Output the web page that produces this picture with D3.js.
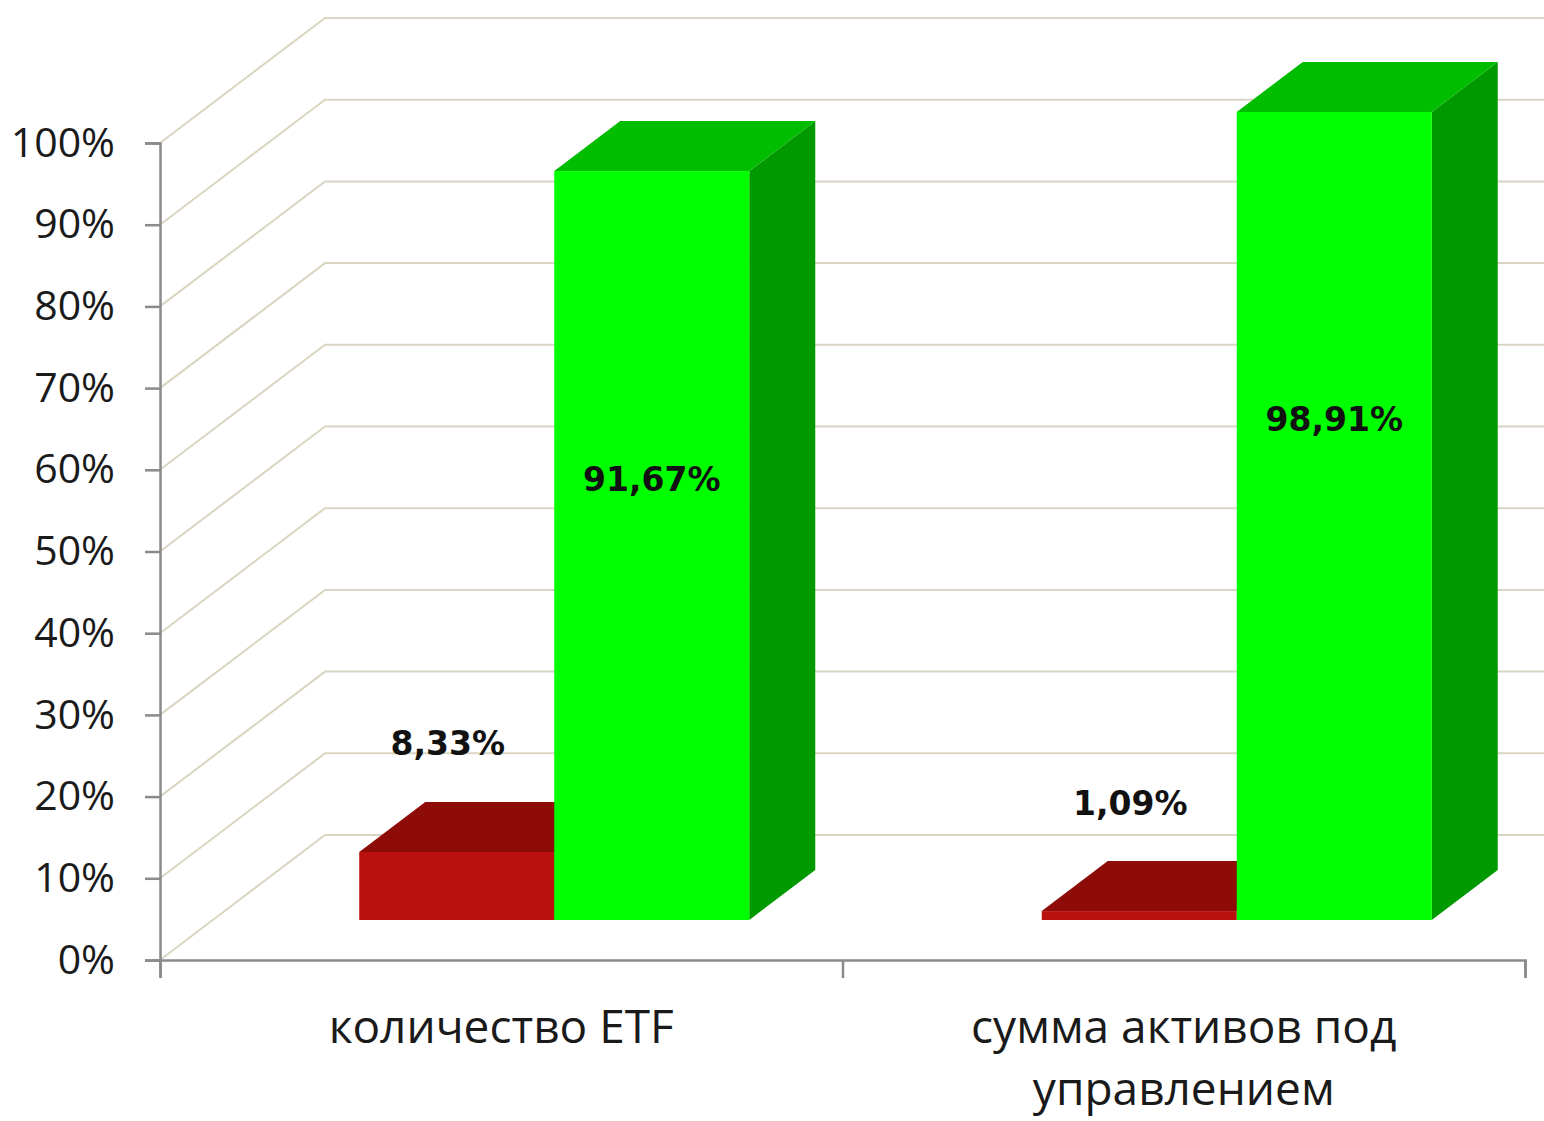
<!DOCTYPE html>
<html>
<head>
<meta charset="utf-8">
<script src="https://cdn.jsdelivr.net/npm/d3@7"></script>
<style>
  html, body { margin: 0; padding: 0; background: #fff; }
  svg { display: block; }
</style>
</head>
<body>
<div id="vis-display"></div>
<script>
// 3D clustered columns: share of ETF count vs. share of assets under management.

const CATEGORIES = ["количество ETF", "сумма активов под управлением"];
const CATEGORY_LINES = [["количество ETF"], ["сумма активов под", "управлением"]];
const SERIES = ["red", "green"];
const RED_VALUES   = [8.33, 1.09];
const GREEN_VALUES = [91.67, 98.91];
const LABELS_RED   = ["8,33%", "1,09%"];
const LABELS_GREEN = ["91,67%", "98,91%"];
const Y_TICKS = [0, 10, 20, 30, 40, 50, 60, 70, 80, 90, 100];

const W = 1544, H = 1121;

// depth offsets of the 3D box (px)
const WALL  = { dx: 165, dy: -125 };  // full floor depth
const FRONT = { dx: 53,  dy: -40 };   // bar front face
const DEPTH = { dx: 66,  dy: -50 };   // bar thickness

const COLORS = {
  red:   { front: "#bb110e", top: "#8e0c08", side: "#7a0a06" },
  green: { front: "#00ff00", top: "#00bd00", side: "#009a00" },
};

const FONT = "'Open Sans', 'DejaVu Sans', sans-serif";

const svg = d3.select("#vis-display").append("svg")
  .attr("width", W)
  .attr("height", H);

// ── Scales ────────────────────────────────────────────────────────────────

const y = d3.scaleLinear().domain([0, 100]).range([960, 143]);

const x0 = d3.scaleBand().domain(CATEGORIES).range([160, 1525]).padding(0);
const x1 = d3.scaleBand().domain(SERIES).range([0, x0.bandwidth()])
  .paddingInner(0).paddingOuter(0.75);

const xEdge = d3.scaleLinear().domain([0, CATEGORIES.length]).range([160, 1525]);

// ── Gridlines (side wall + back wall) ──────────────────────────────────────

const grid = svg.append("g");
grid.selectAll("polyline")
  .data(Y_TICKS)
  .join("polyline")
    .attr("points", v => {
      const yy = y(v);
      return [[160, yy], [160 + WALL.dx, yy + WALL.dy], [W + 10, yy + WALL.dy]]
        .map(p => p.join(",")).join(" ");
    })
    .attr("fill", "none")
    .attr("stroke", "#dad5c2")
    .attr("stroke-width", 2);

// ── Axes ──────────────────────────────────────────────────────────────────

svg.append("g")
  .attr("transform", "translate(160,0)")
  .call(d3.axisLeft(y).tickValues(Y_TICKS).tickSize(15).tickPadding(30)
    .tickFormat(d => d + "%"))
  .call(ax => ax.select(".domain").attr("stroke", "#8a8a8a").attr("stroke-width", 2.5))
  .call(ax => ax.selectAll(".tick line").attr("stroke", "#8a8a8a").attr("stroke-width", 2.5))
  .selectAll("text")
    .style("font-family", FONT)
    .style("font-size", "41px")
    .style("fill", "#1a1a1a");

svg.append("g")
  .attr("transform", "translate(0,960)")
  .call(d3.axisBottom(xEdge).ticks(CATEGORIES.length).tickSize(18).tickSizeOuter(18)
    .tickFormat(""))
  .call(ax => ax.select(".domain").attr("stroke", "#8a8a8a").attr("stroke-width", 2.5))
  .call(ax => ax.selectAll(".tick line").attr("stroke", "#8a8a8a").attr("stroke-width", 2.5));

// category labels
const catLabels = svg.append("g");
CATEGORIES.forEach((c, i) => {
  const cx = x0(c) + x0.bandwidth() / 2;
  const t = catLabels.append("text")
    .attr("text-anchor", "middle")
    .style("font-family", FONT)
    .style("font-size", "46px")
    .style("fill", "#1a1a1a");
  CATEGORY_LINES[i].forEach((line, j) => {
    t.append("tspan")
      .attr("x", cx)
      .attr("y", 1043 + j * 62)
      .text(line);
  });
});

// ── Bars ──────────────────────────────────────────────────────────────────

const pts = arr => arr.map(p => p.join(",")).join(" ");

function drawBar(g, cat, series, value) {
  const c = COLORS[series];
  const xl = x0(cat) + x1(series) + FRONT.dx;
  const xr = xl + x1.bandwidth();
  const yt = y(value) + FRONT.dy;
  const yb = y(0) + FRONT.dy;
  g.append("polygon")
    .attr("points", pts([[xr, yt], [xr + DEPTH.dx, yt + DEPTH.dy], [xr + DEPTH.dx, yb + DEPTH.dy], [xr, yb]]))
    .attr("fill", c.side);
  g.append("polygon")
    .attr("points", pts([[xl, yt], [xr, yt], [xr + DEPTH.dx, yt + DEPTH.dy], [xl + DEPTH.dx, yt + DEPTH.dy]]))
    .attr("fill", c.top);
  g.append("rect")
    .attr("x", xl).attr("y", yt)
    .attr("width", x1.bandwidth()).attr("height", yb - yt)
    .attr("fill", c.front);
  return { cx: (xl + xr) / 2, yt };
}

const bars = svg.append("g");
const labelPos = [];
CATEGORIES.forEach((cat, i) => {
  const r = drawBar(bars, cat, "red", RED_VALUES[i]);
  const g = drawBar(bars, cat, "green", GREEN_VALUES[i]);
  labelPos.push({ text: LABELS_RED[i],   x: r.cx - 9, y: r.yt - 108 });
  labelPos.push({ text: LABELS_GREEN[i], x: g.cx,     y: g.yt + 308 });
});

// ── Data labels ───────────────────────────────────────────────────────────

svg.append("g")
  .selectAll("text")
  .data(labelPos)
  .join("text")
    .attr("x", d => d.x)
    .attr("y", d => d.y)
    .attr("text-anchor", "middle")
    .attr("dominant-baseline", "central")
    .style("font-family", "'DejaVu Sans', sans-serif")
    .style("font-weight", "bold")
    .style("font-size", "33px")
    .style("fill", "#111")
    .text(d => d.text);
</script>
</body>
</html>
